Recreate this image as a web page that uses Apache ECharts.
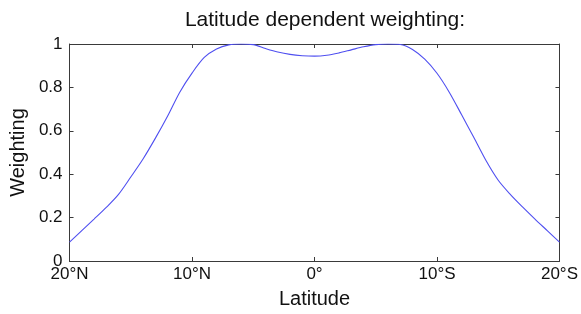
<!DOCTYPE html>
<html>
<head>
<meta charset="UTF-8">
<script src="https://cdn.jsdelivr.net/npm/echarts@6/dist/echarts.min.js"></script>
<style>
  html, body { margin: 0; padding: 0; background: #fff }
  #chart { width: 581px; height: 314px }
</style>
</head>
<body>
<div id="chart"></div>
<script>
// latitude in degrees: negative = north, positive = south
const latitudes = [-20, -19, -18, -17, -16, -15, -14, -13, -12, -11, -10, -9, -8, -7, -6, -5, -4, -3, -2, -1,
  0, 1, 2, 3, 4, 5, 6, 7, 8, 9, 10, 11, 12, 13, 14, 15, 16, 17, 18, 19, 20];
const weights = [0.087, 0.14, 0.193, 0.247, 0.307, 0.387, 0.47, 0.565, 0.667, 0.778, 0.866, 0.938, 0.977, 0.996, 1.0, 0.997, 0.979, 0.963, 0.952, 0.946,
  0.944, 0.948, 0.959, 0.973, 0.987, 0.997, 1.0, 0.998, 0.975, 0.93, 0.865, 0.778, 0.675, 0.57, 0.463, 0.372, 0.306, 0.248, 0.193, 0.14, 0.087];

const font = 'Liberation Sans, Arial, sans-serif';
const axisColor = '#3a3a3a';
const textColor = '#111';

function latLabel(v) {
  if (v === 0) return '0°';
  return v < 0 ? (-v) + '°N' : v + '°S';
}

const boxAxis = {
  axisLine: { show: true, onZero: false, lineStyle: { color: axisColor } },
  axisTick: { show: true, inside: true, length: 4, lineStyle: { color: axisColor } },
  axisLabel: { show: false },
  splitLine: { show: false }
};

const chart = echarts.init(document.getElementById('chart'));
chart.setOption({
  animation: false,
  backgroundColor: '#fff',
  title: {
    text: 'Latitude dependent weighting:',
    left: 320, top: 5, textAlign: 'center',
    textStyle: { fontFamily: font, fontSize: 21, fontWeight: 'normal', color: textColor }
  },
  grid: { left: 68, right: 19, top: 44, bottom: 52 },
  xAxis: [{
    type: 'value', min: -20, max: 20, interval: 10,
    name: 'Latitude', nameLocation: 'middle', nameGap: 28,
    nameTextStyle: { fontFamily: font, fontSize: 20, color: textColor },
    axisLine: { onZero: false, lineStyle: { color: axisColor } },
    axisTick: { inside: true, length: 4, lineStyle: { color: axisColor } },
    axisLabel: { formatter: latLabel, fontFamily: font, fontSize: 17, color: textColor, margin: 5 },
    splitLine: { show: false }
  }, Object.assign({ type: 'value', min: -20, max: 20, interval: 10, position: 'top' }, boxAxis)],
  yAxis: [{
    type: 'value', min: 0, max: 1, interval: 0.2,
    name: 'Weighting', nameLocation: 'middle', nameGap: 39,
    nameTextStyle: { fontFamily: font, fontSize: 20, color: textColor },
    axisLine: { show: true, onZero: false, lineStyle: { color: axisColor } },
    axisTick: { show: true, inside: true, length: 4, lineStyle: { color: axisColor } },
    axisLabel: { formatter: v => String(Math.round(v * 10) / 10), fontFamily: font, fontSize: 17, color: textColor, margin: 7 },
    splitLine: { show: false }
  }, Object.assign({ type: 'value', min: 0, max: 1, interval: 0.2, position: 'right' }, boxAxis)],
  series: [{
    type: 'line',
    data: latitudes.map((x, i) => [x, weights[i]]),
    smooth: 0.3,
    showSymbol: false,
    lineStyle: { color: '#4f4ff0', width: 1.1 }
  }]
});
</script>
</body>
</html>
